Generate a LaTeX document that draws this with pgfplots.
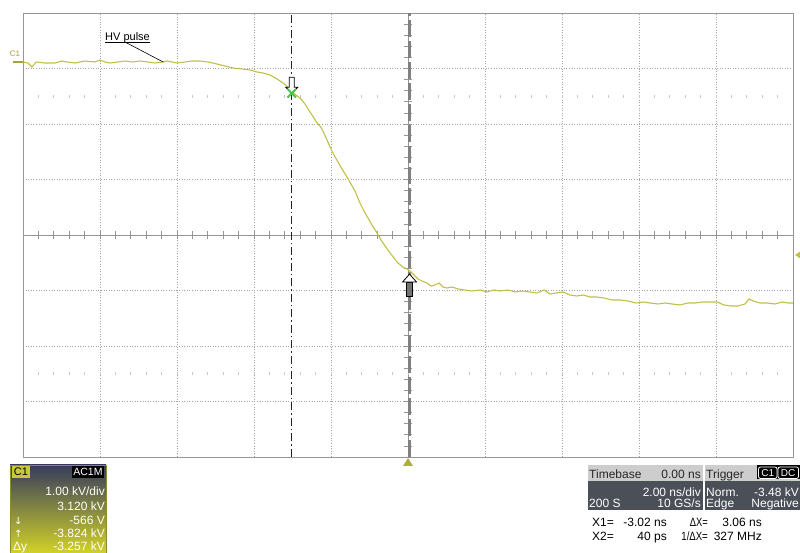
\documentclass[border=0pt]{standalone}
\usepackage{pgfplots}
\pgfplotsset{compat=1.18}
\usepackage{fontspec}
\setmainfont{Liberation Sans}
\newfontfamily\dejavu{DejaVu Sans}
\definecolor{trace}{RGB}{192,192,72}
\definecolor{gridc}{RGB}{165,165,165}
\definecolor{axisc}{RGB}{150,150,150}
\definecolor{c1top}{RGB}{55,60,92}
\definecolor{c1mid}{RGB}{88,90,92}
\definecolor{c1bot}{RGB}{210,210,40}
\definecolor{hdr}{RGB}{205,205,205}
\definecolor{body}{RGB}{75,80,88}
\definecolor{badge}{RGB}{200,200,60}
\definecolor{xgreen}{RGB}{70,200,70}
\begin{document}
\begin{tikzpicture}[x=1pt,y=1pt]
\path[use as bounding box] (0,0) rectangle (800,553);
\begin{axis}[at={(23pt,96pt)}, anchor=south west, scale only axis,
  width=770pt, height=444pt,
  xmin=-10, xmax=10, ymin=-7.12, ymax=0.88,
  axis line style={draw=axisc, line width=0.9pt},
  xtick={-8,-6,-4,-2,0,2,4,6,8},
  ytick={-6.12,-5.12,-4.12,-3.12,-2.12,-1.12,-0.12},
  xticklabels={}, yticklabels={},
  major tick length=0pt, tick style={draw=none},
  grid=major, grid style={draw=gridc, line width=0.8pt, dash pattern=on 1pt off 1.6pt},
  clip=false]
% center axes
\draw[axisc, line width=0.9pt] (axis cs:-10,-3.12) -- (axis cs:10,-3.12);
\draw[axisc, line width=0.9pt] (axis cs:0,-7.12) -- (axis cs:0,0.88);
\pgfplotsinvokeforeach{1,...,49}{
  \draw[axisc, line width=0.7pt] ([yshift=-4pt]axis cs:{-10+0.4*#1},-3.12) -- ([yshift=4pt]axis cs:{-10+0.4*#1},-3.12);
  \draw[gridc!60, line width=0.7pt] ([yshift=-1.5pt]axis cs:{-10+0.4*#1},-0.62) -- ([yshift=1.5pt]axis cs:{-10+0.4*#1},-0.62);
  \draw[gridc!60, line width=0.7pt] ([yshift=-1.5pt]axis cs:{-10+0.4*#1},-5.62) -- ([yshift=1.5pt]axis cs:{-10+0.4*#1},-5.62);
}
\pgfplotsinvokeforeach{1,...,39}{
  \draw[axisc, line width=0.7pt] ([xshift=-4pt]axis cs:0,{-7.12+0.2*#1}) -- ([xshift=4pt]axis cs:0,{-7.12+0.2*#1});
}
% cursors
\draw[black!85, line width=1.3pt, dash pattern=on 8pt off 3pt on 1.5pt off 3pt] (axis cs:-3.02,-7.12) -- (axis cs:-3.02,0.88);
\draw[black!50, line width=2.6pt, dash pattern=on 17pt off 4pt] (axis cs:0.04,-7.12) -- (axis cs:0.04,0.88);
% trace
\addplot[trace, line width=1.1pt] coordinates {
(-10.000,-0.003) (-9.870,-0.021) (-9.766,-0.093) (-9.662,-0.003) (-9.429,-0.021)
(-9.169,-0.021) (-8.987,0.015) (-8.857,-0.003) (-8.649,-0.021) (-8.390,0.015)
(-8.130,-0.003) (-8.000,0.033) (-7.870,-0.003) (-7.740,-0.021) (-7.532,-0.003)
(-7.351,0.015) (-7.143,-0.003) (-6.961,0.015) (-6.753,-0.003) (-6.571,-0.021)
(-6.364,-0.003) (-6.260,0.015) (-6.130,-0.003) (-6.000,-0.021) (-5.792,-0.003)
(-5.610,0.015) (-5.403,0.015) (-5.195,-0.003) (-4.961,-0.039) (-4.753,-0.075)
(-4.545,-0.111) (-4.312,-0.129) (-4.104,-0.147) (-3.922,-0.183) (-3.766,-0.201)
(-3.584,-0.237) (-3.403,-0.309) (-3.247,-0.381) (-3.117,-0.453) (-3.013,-0.543)
(-2.909,-0.598) (-2.805,-0.652) (-2.675,-0.760) (-2.545,-0.904) (-2.442,-1.012)
(-2.364,-1.102) (-2.286,-1.156) (-2.208,-1.246) (-2.104,-1.408) (-2.026,-1.534)
(-1.922,-1.679) (-1.818,-1.805) (-1.714,-1.931) (-1.584,-2.075) (-1.481,-2.201)
(-1.377,-2.327) (-1.247,-2.543) (-1.143,-2.688) (-1.039,-2.814) (-0.935,-2.940)
(-0.805,-3.084) (-0.701,-3.210) (-0.597,-3.318) (-0.468,-3.444) (-0.364,-3.534)
(-0.260,-3.625) (-0.130,-3.697) (-0.026,-3.733) (0.052,-3.769) (0.156,-3.841)
(0.260,-3.913) (0.364,-3.949) (0.494,-3.985) (0.597,-4.039) (0.701,-4.021)
(0.805,-3.985) (0.909,-4.057) (1.013,-4.075) (1.143,-4.057) (1.299,-4.093)
(1.481,-4.111) (1.662,-4.129) (1.870,-4.111) (2.052,-4.147) (2.234,-4.111)
(2.390,-4.129) (2.597,-4.111) (2.779,-4.147) (2.961,-4.129) (3.169,-4.147)
(3.351,-4.165) (3.532,-4.111) (3.688,-4.183) (3.844,-4.165) (4.026,-4.147)
(4.208,-4.201) (4.390,-4.219) (4.545,-4.201) (4.727,-4.237) (4.909,-4.237)
(5.091,-4.255) (5.299,-4.291) (5.506,-4.291) (5.714,-4.309) (5.922,-4.345)
(6.104,-4.327) (6.286,-4.345) (6.494,-4.363) (6.675,-4.345) (6.857,-4.363)
(7.065,-4.381) (7.273,-4.345) (7.455,-4.345) (7.662,-4.327) (7.870,-4.327)
(8.026,-4.327) (8.208,-4.381) (8.390,-4.399) (8.571,-4.399) (8.753,-4.363)
(8.857,-4.273) (8.961,-4.309) (9.143,-4.345) (9.325,-4.345) (9.532,-4.363)
(9.714,-4.327) (9.870,-4.345) (10.000,-4.345)
};
% cursor arrows
\draw[black, fill=white, line width=0.8pt] (axis cs:-3.02,-0.566) -- ++(-6pt,6pt) -- ++(3.5pt,0pt) -- ++(0pt,10pt) -- ++(5pt,0pt) -- ++(0pt,-10pt) -- ++(3.5pt,0pt) -- cycle;
\addplot[only marks, mark=x, mark size=6pt, xgreen, line width=1.8pt] coordinates {(-3.02,-0.566)};
\draw[black, fill=black!55, line width=0.8pt] ([xshift=-3pt,yshift=-8pt]axis cs:0.04,-3.824) rectangle ([xshift=3pt,yshift=-22pt]axis cs:0.04,-3.824);
\draw[black, fill=white, line width=0.8pt] (axis cs:0.04,-3.824) -- ++(-7pt,-8pt) -- ++(14pt,0pt) -- cycle;
% trigger markers
\fill[trace] ([xshift=2pt]axis cs:10,-3.48) -- ++(6pt,4pt) -- ++(0pt,-8pt) -- cycle;
\fill[trace!90!black] ([yshift=-1pt]axis cs:0,-7.12) -- ++(-5pt,-8pt) -- ++(10pt,0pt) -- cycle;
% channel ground marker
\draw[trace!85!black, line width=2.2pt] ([xshift=-10pt]axis cs:-10,0) -- (axis cs:-10,0);
\node[trace!85!black, font=\fontsize{8}{8}\selectfont, inner sep=0pt] at ([xshift=-8pt,yshift=8.5pt]axis cs:-10,0) {C1};
% label
\draw[black, line width=0.7pt] (axis cs:-7.87,0.357) -- (axis cs:-6.70,0.357);
\draw[black, line width=0.6pt] (axis cs:-7.35,0.357) -- (axis cs:-6.36,-0.003);
\node[anchor=base west, inner sep=0pt, font=\fontsize{11}{11}\selectfont] at ([yshift=2pt]axis cs:-7.87,0.357) {HV pulse};
\end{axis}
% ---- C1 info box ----
\shade[top color=c1top, middle color=c1mid, bottom color=c1bot] (10,0) rectangle (106,88);
\draw[badge!70!black, line width=0.8pt] (10,0) -- (10,88) -- (106,88) -- (106,0);
\fill[badge] (12,75) rectangle (30,87);
\node[inner sep=0pt, font=\fontsize{11}{11}\selectfont] at (21,81) {C1};
\fill[black] (72,75) rectangle (104,87);
\node[inner sep=0pt, white, font=\fontsize{10.5}{10.5}\selectfont] at (88,81) {AC1M};
\begin{scope}[every node/.style={inner sep=0pt, font=\fontsize{12}{12}\selectfont, text=white}]
\node[anchor=base east] at (105,57) {1.00 kV/div};
\node[anchor=base east] at (105,42) {3.120 kV};
\node[anchor=base east] at (105,28) {-566 V};
\node[anchor=base east] at (105,15) {-3.824 kV};
\node[anchor=base east] at (105,2) {-3.257 kV};
\node[anchor=base west] at (14,28) {\dejavu\fontsize{10}{10}\selectfont ↓};
\node[anchor=base west] at (14,15) {\dejavu\fontsize{10}{10}\selectfont ↑};
\node[anchor=base west] at (13,2) {Δy};
\end{scope}
% ---- Timebase box ----
\fill[body] (588,43) rectangle (703,88);
\fill[hdr] (588,72) rectangle (703,88);
\fill[body] (705,43) rectangle (800,88);
\fill[hdr] (705,72) rectangle (757,88);
\fill[black] (757,72) rectangle (800,88);
\fill[hdr] (757,72) rectangle (800,73.5);
\begin{scope}[every node/.style={inner sep=0pt, font=\fontsize{12}{12}\selectfont}]
\node[anchor=base west, text=black!85] at (589,74.5) {Timebase};
\node[anchor=base east, text=black!85] at (701,74.5) {0.00 ns};
\node[anchor=base east, text=white] at (701,56.5) {2.00 ns/div};
\node[anchor=base west, text=white] at (589,45.5) {200 S};
\node[anchor=base east, text=white] at (701,45.5) {10 GS/s};
\node[anchor=base west, text=black!85] at (706,74.5) {Trigger};
\node[anchor=base west, text=white] at (706,56.5) {Norm.};
\node[anchor=base east, text=white] at (799,56.5) {-3.48 kV};
\node[anchor=base west, text=white] at (706,45.5) {Edge};
\node[anchor=base east, text=white] at (799,45.5) {Negative};
\node[anchor=base west, text=black] at (592,26.5) {X1=};
\node[anchor=base east, text=black] at (667,26.5) {-3.02 ns};
\node[anchor=base east, text=black, xscale=0.78] at (708,26.5) {ΔX=};
\node[anchor=base east, text=black] at (762,26.5) {3.06 ns};
\node[anchor=base west, text=black] at (592,12.5) {X2=};
\node[anchor=base east, text=black] at (667,12.5) {40 ps};
\node[anchor=base east, text=black, xscale=0.8] at (708,12.5) {1/ΔX=};
\node[anchor=base east, text=black] at (762,12.5) {327 MHz};
\end{scope}
\draw[white, line width=0.8pt, rounded corners=2pt] (758.5,74.5) rectangle (777,86);
\draw[white, line width=0.8pt, rounded corners=2pt] (778,74.5) rectangle (798.5,86);
\node[inner sep=0pt, white, font=\fontsize{10}{10}\selectfont] at (767.7,80.2) {C1};
\node[inner sep=0pt, white, font=\fontsize{10}{10}\selectfont] at (788.2,80.2) {DC};
\end{tikzpicture}
\end{document}
